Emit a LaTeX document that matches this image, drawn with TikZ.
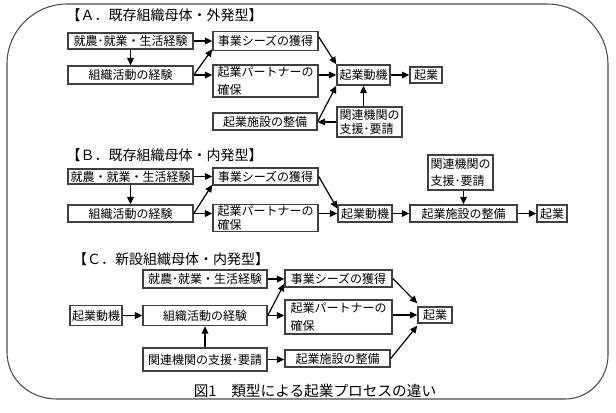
\documentclass[tikz,border=0pt]{standalone}
\usepackage{fontspec}
\setmainfont{Noto Sans CJK JP}
\usetikzlibrary{arrows.meta,calc}
\begin{document}
\begin{tikzpicture}[x=0.75pt,y=-0.75pt,
  box/.style={draw=black!75, line width=1.1pt, inner sep=1pt, fill=white,
    font=\fontsize{9}{11}\selectfont},
  wh/.style 2 args={minimum width={#1*0.75pt}, minimum height={#2*0.75pt}},
  arr/.style={-{Triangle[length=5.5pt,width=5pt]}, line width=0.9pt, black},
  ttl/.style={font=\fontsize{10.5}{12}\selectfont, inner sep=0pt},
  captext/.style={font=\fontsize{11}{12}\selectfont, inner sep=0pt},
  frame/.style={draw=black!70, line width=0.8pt},
]
\useasboundingbox (0,0) rectangle (616,412);
% outer frame
\draw[frame] (7,64) .. controls (7,31) and (34,4) .. (67,4) -- (547,4)
  .. controls (581,4) and (608,31) .. (608,65) -- (608,355)
  .. controls (608,379) and (589,399) .. (565,399) -- (57,399)
  .. controls (29,399) and (7,379) .. (7,352) -- cycle;

% ---------- A ----------
\node[ttl] (tA) at (164.5,15) {【Ａ．既存組織母体・外発型】};
\node[box, wh={125}{16}] (a1) at (130.5,41) {就農･就業・生活経験};
\node[box, wh={125}{18}] (a2) at (130.5,75) {組織活動の経験};
\node[box, wh={105}{19}] (a3) at (265.5,41) {事業シーズの獲得};
\node[box, wh={105}{32}, align=left, font=\fontsize{9}{13.5}\selectfont] (a4) at (265.5,81) {起業パートナーの\\確保};
\node[box, wh={104}{17}] (a5) at (265,121.5) {起業施設の整備};
\node[box, wh={53}{20}] (a6) at (363.5,75) {起業動機};
\node[box, wh={32}{16}] (a7) at (426,75) {起業};
\node[box, wh={65}{30}, align=left, font=\fontsize{9}{10}\selectfont] (a8) at (369.5,122) {関連機関の\\支援･要請};
\draw[arr] (a1.south -| a2.north) -- (a2.north);
\draw[arr] (a1.east) -- (a1.east -| a3.west);
\draw[arr] (a2.east) -- ($(a3.south west)+(0,-2)$);
\draw[arr] (a2.east) -- (a2.east -| a4.west);
\draw[arr] ($(a3.north east)!0.3!(a3.south east)$) -- (a6.north west);
\draw[arr] (a4.east |- a6.west) -- (a6.west);
\draw[arr] (a5.east) -- (a6.south west);
\draw[arr] (a8.west) -- (a8.west -| a5.east);
\draw[arr] (a6.south |- a8.north) -- (a6.south);
\draw[arr] (a6.east) -- (a7.west);

% ---------- B ----------
\node[ttl] (tB) at (164.5,155) {【Ｂ．既存組織母体・内発型】};
\node[box, wh={125}{15}] (b1) at (130.5,176.5) {就農・就業・生活経験};
\node[box, wh={125}{17}] (b2) at (130.5,213.5) {組織活動の経験};
\node[box, wh={105}{17}] (b3) at (265.5,176.5) {事業シーズの獲得};
\node[box, wh={105}{27}, align=left, font=\fontsize{9}{10}\selectfont] (b4) at (265.5,218) {起業パートナーの\\確保};
\node[box, wh={54}{17}] (b5) at (365,213.5) {起業動機};
\node[box, wh={107}{17}] (b6) at (463.5,213.5) {起業施設の整備};
\node[box, wh={30}{17}] (b7) at (552,213.5) {起業};
\node[box, wh={65}{35}, align=left, font=\fontsize{9}{12.5}\selectfont] (b8) at (460.5,172.5) {関連機関の\\支援･要請};
\draw[arr] (b1.south -| b2.north) -- (b2.north);
\draw[arr] (b1.east) -- (b1.east -| b3.west);
\draw[arr] (b2.east) -- ($(b3.south west)+(0,-1)$);
\draw[arr] (b2.east) -- (b2.east -| b4.west);
\draw[arr] (b3.east) -- ($(b5.west)+(0,-5)$);
\draw[arr] (b4.east |- b5.west) -- (b5.west);
\draw[arr] (b5.east) -- (b6.west);
\draw[arr] (b6.east) -- (b7.west);
\draw[arr] (b8.south -| b6.north) -- (b6.north);

% ---------- C ----------
\node[ttl] (tC) at (171,259) {【Ｃ．新設組織母体・内発型】};
\node[box, wh={124}{18}] (c1) at (205,279) {就農･就業・生活経験};
\node[box, wh={124}{20}] (c2) at (205,315.5) {組織活動の経験};
\node[box, wh={52}{20}] (c0) at (96,315.5) {起業動機};
\node[box, wh={124}{23}] (c3) at (205,359.5) {関連機関の支援･要請};
\node[box, wh={107}{17}] (c4) at (338.5,278.5) {事業シーズの獲得};
\node[box, wh={107}{34}, align=left, font=\fontsize{9}{13.5}\selectfont] (c5) at (338.5,317) {起業パートナーの\\確保};
\node[box, wh={105}{17}] (c6) at (337.5,358.5) {起業施設の整備};
\node[box, wh={34}{16}] (c7) at (435,315) {起業};
\draw[arr] (c0.east) -- (c2.west);
\draw[arr] (c1.east) -- (c1.east -| c4.west);
\draw[arr] (c2.east) -- ($(c4.south west)+(0,-4)$);
\draw[arr] (c2.east) -- (c2.east -| c5.west);
\draw[arr] (c3.north) -- (c2.south);
\draw[arr] (c3.east) -- (c3.east -| c6.west);
\draw[arr] (c4.east) -- ($(c7.north west)+(0,-3)$);
\draw[arr] (c5.east |- c7.west) -- (c7.west);
\draw[arr] (c6.east) -- ($(c7.south west)+(0,2)$);

\node[captext] (caption) at (315,391) {図1　類型による起業プロセスの違い};
\end{tikzpicture}
\end{document}
